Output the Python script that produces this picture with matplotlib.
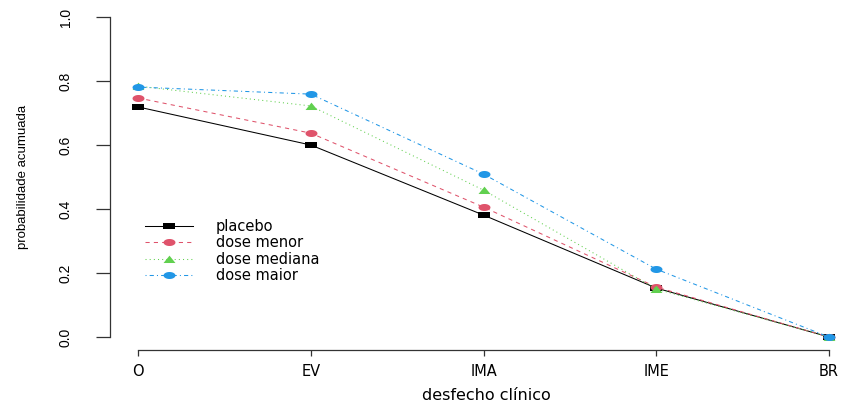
import numpy as np
import matplotlib.pyplot as plt
from matplotlib.path import Path

# categories on the x axis
desfechos = ['O', 'EV', 'IMA', 'IME', 'BR']

# cumulative probabilities
placebo = [0.719, 0.600, 0.381, 0.153, 0.0]
dose_menor = [0.747, 0.637, 0.406, 0.156, 0.0]
dose_mediana = [0.784, 0.722, 0.459, 0.150, 0.0]
dose_maior = [0.781, 0.759, 0.509, 0.212, 0.0]

series_names = ['placebo', 'dose menor', 'dose mediana', 'dose maior']

W, H = 846, 403
fig = plt.figure(figsize=(W / 100, H / 100), dpi=100)

# plot region (R style: 4% padding on both axes)
x0, x1 = 110.4, 856.6
y0, y1 = 4.2, 349.8
ax = fig.add_axes([x0 / W, 1 - y1 / H, (x1 - x0) / W, (y1 - y0) / H])

# wide markers (reference looks horizontally stretched)
t = np.linspace(0, 2 * np.pi, 40)
ellipse = Path(np.column_stack([1.7 * np.cos(t), np.sin(t)]), closed=True)
rect = Path([(-1.7, -1), (1.7, -1), (1.7, 1), (-1.7, 1), (-1.7, -1)], closed=True)
tri = Path([(-1.7, -1), (1.7, -1), (0, 1.1), (-1.7, -1)], closed=True)

cols = ['black', '#DF536B', '#61D04F', '#2297E6']
styles = ['-', (0, (4, 4)), (0, (1, 3)), (0, (1, 3, 4, 3))]
marks = [rect, ellipse, tri, ellipse]
sizes = [8.0, 8.6, 8.6, 8.6]

xs = np.arange(1, len(desfechos) + 1)
for vals, name, c, ls, m, ms in zip([placebo, dose_menor, dose_mediana, dose_maior],
                                    series_names, cols, styles, marks, sizes):
    ax.plot(xs, vals, color=c, linestyle=ls, linewidth=0.75, marker=m,
            markersize=ms, markeredgewidth=0, label=name)

ax.set_xlim(0.84, 5.16)
ax.set_ylim(-0.04, 1.04)

for s in ['top', 'right']:
    ax.spines[s].set_visible(False)
ax.spines['left'].set_bounds(0, 1)
ax.spines['bottom'].set_bounds(1, 5)
for s in ['left', 'bottom']:
    ax.spines[s].set_linewidth(0.9)
    ax.spines[s].set_color('#333333')

ax.set_xticks(xs)
ax.set_xticklabels(desfechos, family='DejaVu Sans', fontsize=10.5)
ax.set_yticks([0, 0.2, 0.4, 0.6, 0.8, 1.0])
ax.set_yticklabels(['0.0', '0.2', '0.4', '0.6', '0.8', '1.0'], rotation=90,
                   family='Liberation Sans', fontsize=10, va='center')
ax.tick_params(axis='y', length=10, width=0.9, pad=17, color='#333333')
ax.tick_params(axis='x', length=4.3, width=0.9, pad=6, color='#333333')

fig.text(23 / W, 1 - 177 / H, 'probabilidade acumuada', rotation=90,
         ha='center', va='center', fontsize=9.5, family='Liberation Sans')
fig.text(486 / W, 1 - 396 / H, 'desfecho clínico', ha='center', va='center',
         fontsize=11.5, family='DejaVu Sans')

ax.legend(loc='upper left', bbox_to_anchor=(145 / W, 1 - 219 / H),
          bbox_transform=fig.transFigure, frameon=False, borderpad=0,
          borderaxespad=0, handlelength=3.3, handletextpad=1.55,
          labelspacing=0.1, prop={'family': 'DejaVu Sans', 'size': 10.5})

fig.savefig('out.png', dpi=100)
